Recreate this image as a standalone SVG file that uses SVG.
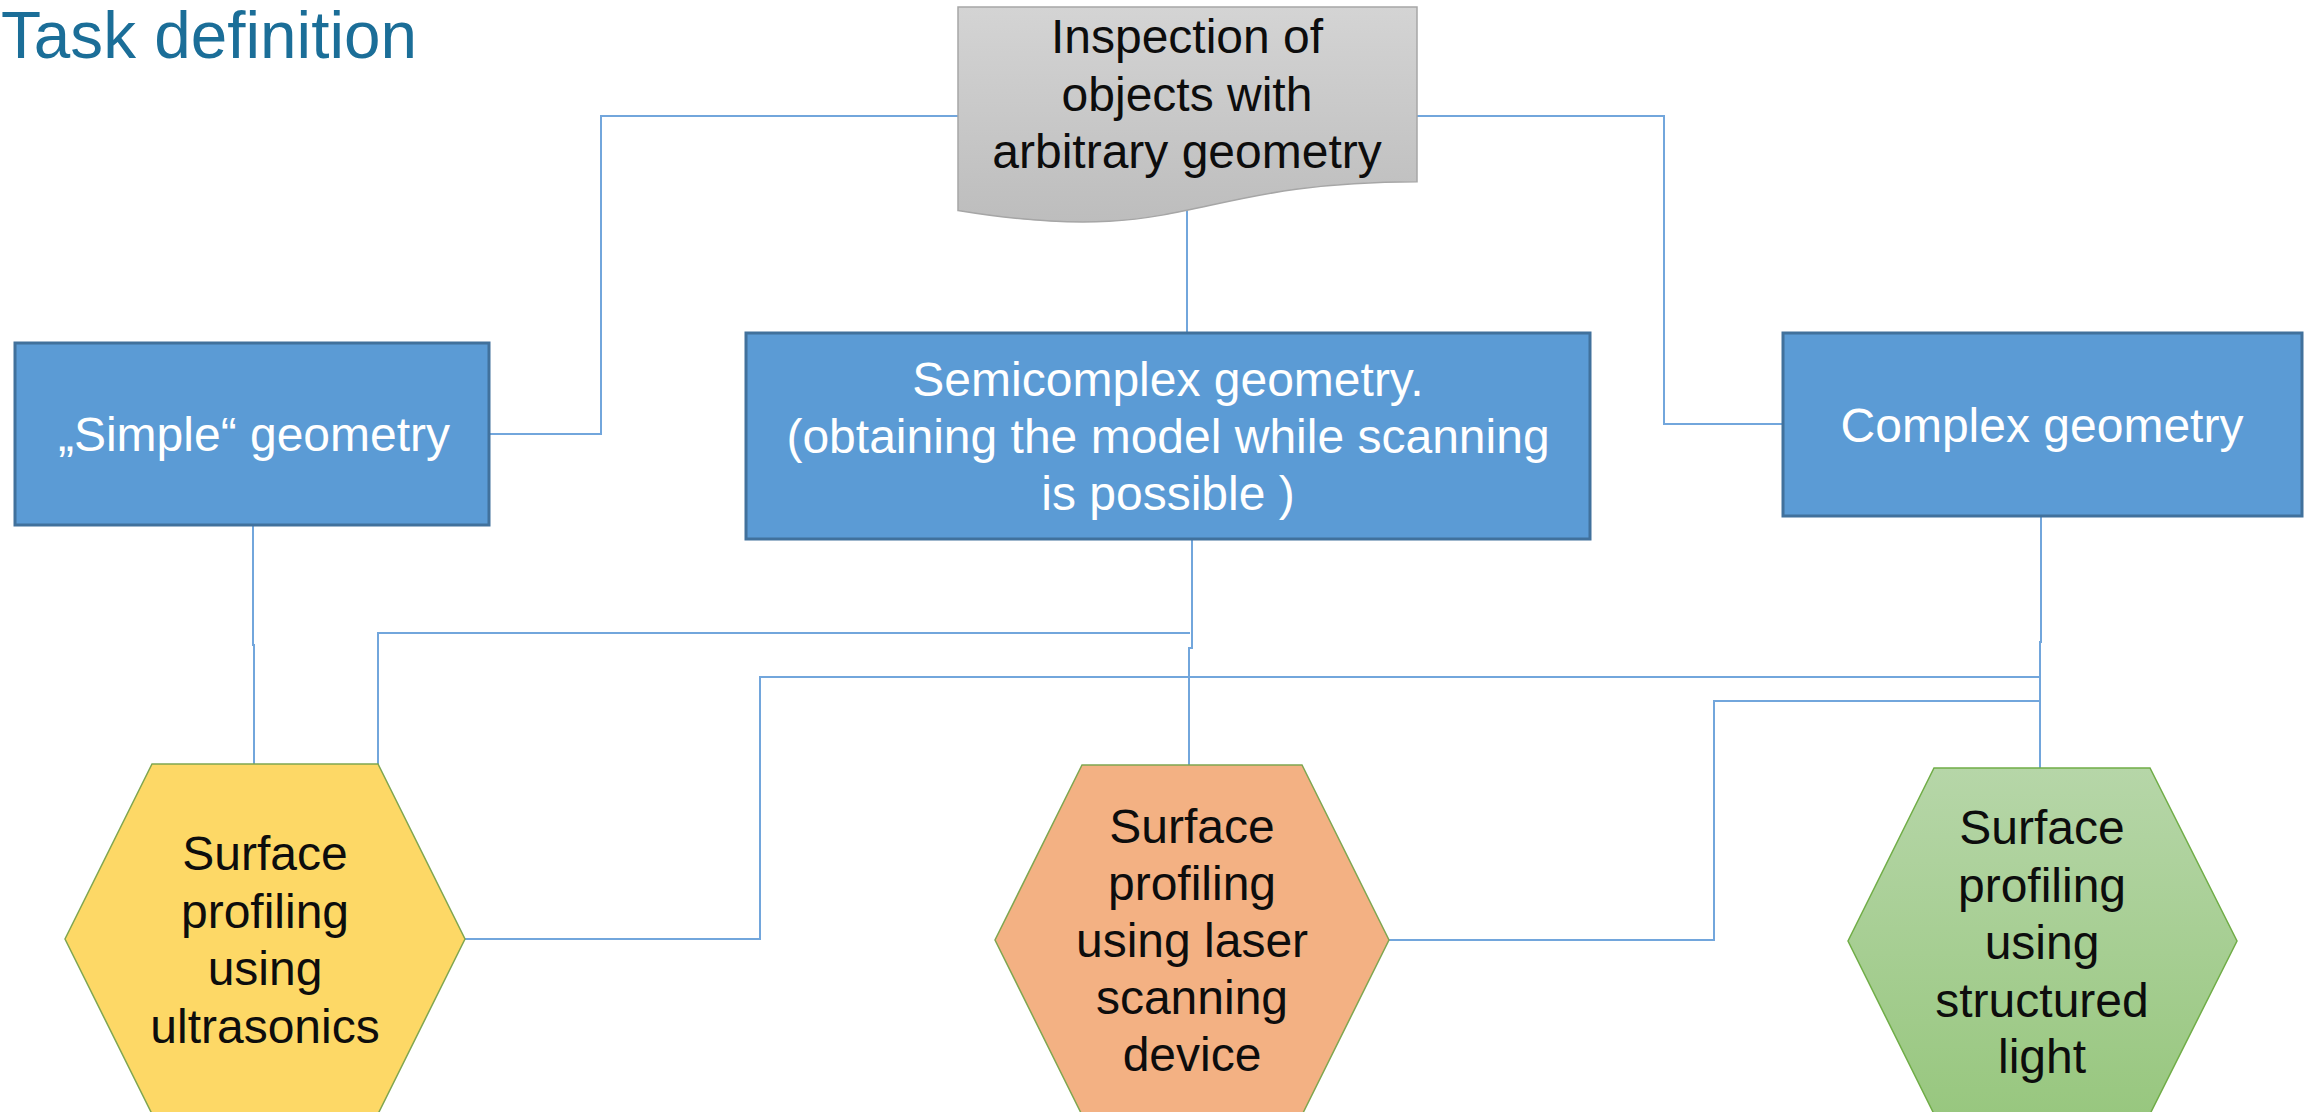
<svg xmlns="http://www.w3.org/2000/svg" width="2308" height="1112" viewBox="0 0 2308 1112">
<defs>
<linearGradient id="gDoc" x1="0" y1="0" x2="0" y2="1">
<stop offset="0" stop-color="#d4d4d4"/>
<stop offset="1" stop-color="#bdbdbd"/>
</linearGradient>
<linearGradient id="gGreen" x1="0" y1="0" x2="0" y2="1">
<stop offset="0" stop-color="#b6d6a8"/>
<stop offset="1" stop-color="#98c77f"/>
</linearGradient>
<style>
text{font-family:"Liberation Sans",Arial,sans-serif;font-size:48px;text-anchor:middle}
.box{fill:#5b9bd5;stroke:#41719c;stroke-width:3}
.wt{fill:#ffffff}
.bt{fill:#0d0d0d}
.hex{stroke:#7fa650;stroke-width:1.5}
.conn path{fill:none;stroke:#72a6dc;stroke-width:2}
</style>
</defs>
<rect width="2308" height="1112" fill="#ffffff"/>
<text x="1" y="58" textLength="416" lengthAdjust="spacingAndGlyphs" style="font-size:66px;text-anchor:start;fill:#1b6e98">Task definition</text>

<g id="connectors" class="conn">
<path d="M958,116 H601 V434 H489"/>
<path d="M1417,116 H1664 V424 H1782"/>
<path d="M1187,209 V333"/>
<path d="M253,525 V645 H254 V764"/>
<path d="M1192,539 V648 H1189 V765"/>
<path d="M1190,633 H378 V764"/>
<path d="M2041,516 V642 H2040 V768"/>
<path d="M465,939 H760 V677 H2040"/>
<path d="M1389,940 H1714 V701 H2040"/>
</g>

<g id="inspection">
<path d="M958,7 H1417 V181.7 C1187.5,181.7 1187.5,248.3 958,210.5 Z" fill="url(#gDoc)" stroke="#a6a6a6" stroke-width="1.5"/>
<text class="bt" x="1187" y="53">Inspection of</text>
<text class="bt" x="1187" y="111">objects with</text>
<text class="bt" x="1187" y="168">arbitrary geometry</text>
</g>

<g id="simple">
<rect class="box" x="15" y="343" width="474" height="182"/>
<text class="wt" x="254" y="451">„Simple“ geometry</text>
</g>

<g id="semicomplex">
<rect class="box" x="746" y="333" width="844" height="206"/>
<text class="wt" x="1168" y="396">Semicomplex geometry.</text>
<text class="wt" x="1168" y="453">(obtaining the model while scanning</text>
<text class="wt" x="1168" y="510">is possible )</text>
</g>

<g id="complex">
<rect class="box" x="1783" y="333" width="519" height="183"/>
<text class="wt" x="2042" y="442">Complex geometry</text>
</g>

<g id="ultrasonics">
<polygon class="hex" points="152,764 378,764 465,939 378,1114 152,1114 65,939" fill="#fdd866"/>
<text class="bt" x="265" y="870">Surface</text>
<text class="bt" x="265" y="928">profiling</text>
<text class="bt" x="265" y="985">using</text>
<text class="bt" x="265" y="1043">ultrasonics</text>
</g>

<g id="laser">
<polygon class="hex" points="1082,765 1302,765 1389,940 1302,1115 1082,1115 995,940" fill="#f3b183"/>
<text class="bt" x="1192" y="843">Surface</text>
<text class="bt" x="1192" y="900">profiling</text>
<text class="bt" x="1192" y="957">using laser</text>
<text class="bt" x="1192" y="1014">scanning</text>
<text class="bt" x="1192" y="1071">device</text>
</g>

<g id="structured">
<polygon class="hex" points="1934,768 2150,768 2237,941 2150,1114 1934,1114 1848,941" fill="url(#gGreen)" style="stroke:#70ad47"/>
<text class="bt" x="2042" y="844">Surface</text>
<text class="bt" x="2042" y="902">profiling</text>
<text class="bt" x="2042" y="959">using</text>
<text class="bt" x="2042" y="1017">structured</text>
<text class="bt" x="2042" y="1073">light</text>
</g>
</svg>
